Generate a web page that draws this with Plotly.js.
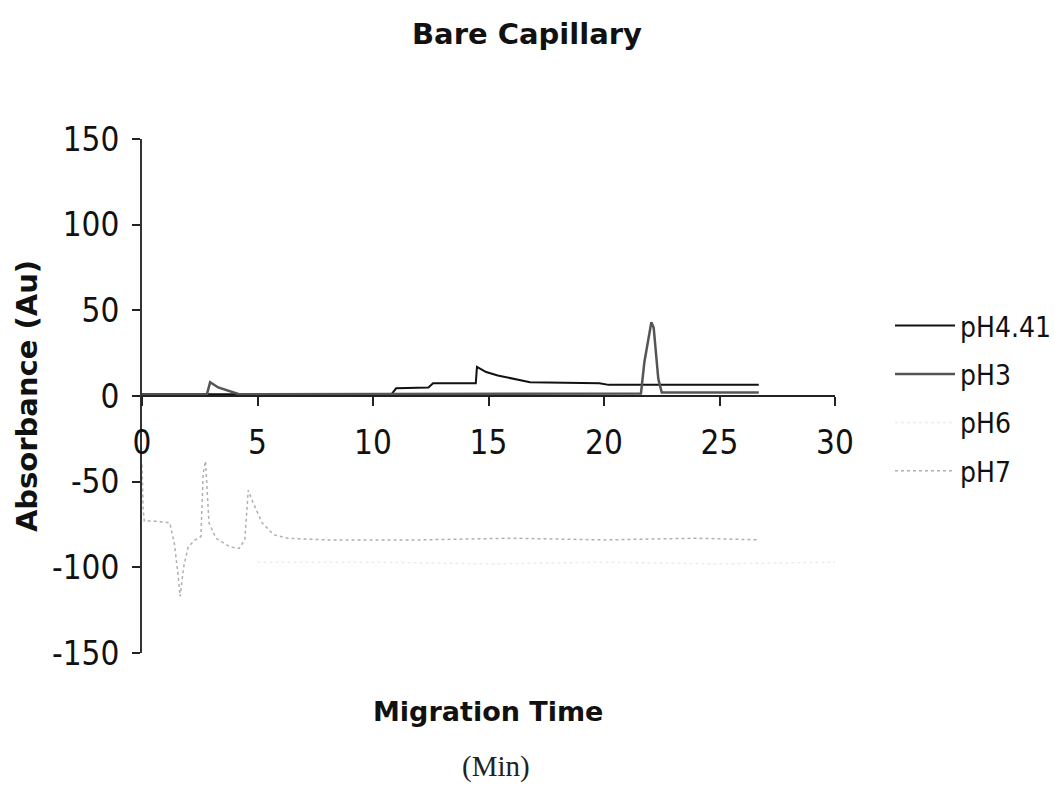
<!DOCTYPE html>
<html>
<head>
<meta charset="utf-8">
<script src="https://cdn.plot.ly/plotly-3.0.1.min.js"></script>
<style>html,body{margin:0;padding:0;background:#fff;}#chart{width:1055px;height:800px;}</style>
</head>
<body>
<div id="chart"></div>
<script>
// Data
var seriesNames = ["pH4.41", "pH3", "pH6", "pH7"];

var ph441_x = [0, 5, 10.8, 11.0, 12.4, 12.6, 14.45, 14.5, 14.9, 15.4, 15.9, 16.8, 19.8, 20.2, 26.7];
var ph441_y = [1, 1, 1, 4.5, 5, 7.5, 7.5, 17, 14, 12, 10.5, 8, 7.5, 6.5, 6.5];

var ph3_x = [0, 2.8, 2.95, 3.3, 4.2, 21.6, 21.75, 22.05, 22.15, 22.35, 22.5, 26.7];
var ph3_y = [0.5, 0.5, 8, 5, 1, 1.5, 20, 43, 40, 10, 2, 2];

var ph6_x = [5, 10, 15, 20, 25, 30];
var ph6_y = [-97, -97, -98, -97, -98, -97];

var ph7_x = [0, 0.05, 0.1, 0.5, 1.2, 1.4, 1.55, 1.65, 1.8, 2.0, 2.3, 2.55, 2.65, 2.75, 2.9, 3.2, 3.8, 4.2, 4.45, 4.6, 4.8, 5.2, 5.7, 6.3, 8, 12, 16, 20, 24, 26.7];
var ph7_y = [-40, -66, -73, -73, -74, -86, -103, -117, -100, -88, -84, -82, -45, -38, -74, -83, -88, -89, -84, -55, -62, -74, -81, -83, -84, -84, -83, -84, -83, -84];

var xTicks = [0, 5, 10, 15, 20, 25, 30];
var yTicks = [-150, -100, -50, 0, 50, 100, 150];
var yTickText = yTicks.map(function (v) { return String(v); });

var narrow = "Liberation Sans Narrow, DejaVu Sans Condensed, Arial Narrow, sans-serif";
var boldFont = "DejaVu Sans, Arial, sans-serif";

var traces = [
  {x: ph441_x, y: ph441_y, name: seriesNames[0], mode: "lines", legendgroup: "a",
   line: {color: "#111111", width: 2}},
  {x: ph3_x, y: ph3_y, name: seriesNames[1], mode: "lines", legendgroup: "b",
   line: {color: "#555555", width: 2.5}},
  {x: ph6_x, y: ph6_y, name: seriesNames[2], mode: "lines", legendgroup: "c",
   line: {color: "#ececec", width: 1.5, dash: "dot"}},
  {x: ph7_x, y: ph7_y, name: seriesNames[3], mode: "lines", legendgroup: "d",
   line: {color: "#b0b0b0", width: 1.5, dash: "dot"}}
];

var layout = {
  width: 1055, height: 800,
  paper_bgcolor: "#ffffff", plot_bgcolor: "#ffffff",
  margin: {l: 142, r: 220, t: 139, b: 147, autoexpand: false},
  showlegend: true,
  title: {text: "Bare Capillary", x: 527/1055, xref: "container", xanchor: "center",
          y: 1 - 34/800, yref: "container", yanchor: "middle",
          font: {family: boldFont, size: 29, color: "#111", weight: "bold"}},
  xaxis: {range: [0, 30], tickvals: xTicks, anchor: "free", position: 0.5,
          showline: true, linecolor: "#222", linewidth: 2,
          ticks: "outside", ticklen: 9, tickwidth: 2, tickcolor: "#222",
          showgrid: false, zeroline: false, ticklabelstandoff: 8,
          tickfont: {family: narrow, size: 33, color: "#111"}},
  yaxis: {range: [-150, 150], tickvals: yTicks, ticktext: yTickText,
          showline: true, linecolor: "#333", linewidth: 2,
          ticks: "outside", ticklen: 8, tickwidth: 2, tickcolor: "#222",
          showgrid: false, zeroline: false, ticklabelstandoff: 6,
          tickfont: {family: narrow, size: 33, color: "#111"},
          title: {text: "Absorbance (Au)", standoff: 6,
                  font: {family: boldFont, size: 29, color: "#111", weight: "bold"}}},
  legend: {x: 890/1055, xref: "container", xanchor: "left", y: 0.685, yanchor: "top",
           traceorder: "grouped", tracegroupgap: 9, itemwidth: 60,
           bgcolor: "rgba(0,0,0,0)",
           font: {family: narrow, size: 28, color: "#111"}},
  annotations: [
    {text: "Migration Time", xref: "paper", yref: "paper", x: (488-142)/693, y: (653-711)/514,
     xanchor: "center", yanchor: "middle", showarrow: false,
     font: {family: boldFont, size: 27, color: "#111", weight: "bold"}},
    {text: "(Min)", xref: "paper", yref: "paper", x: (496-142)/693, y: (653-766)/514,
     xanchor: "center", yanchor: "middle", showarrow: false,
     font: {family: "Liberation Serif, Times New Roman, serif", size: 29, color: "#222"}}
  ]
};

Plotly.newPlot("chart", traces, layout, {displayModeBar: false, staticPlot: true});
</script>
</body>
</html>
